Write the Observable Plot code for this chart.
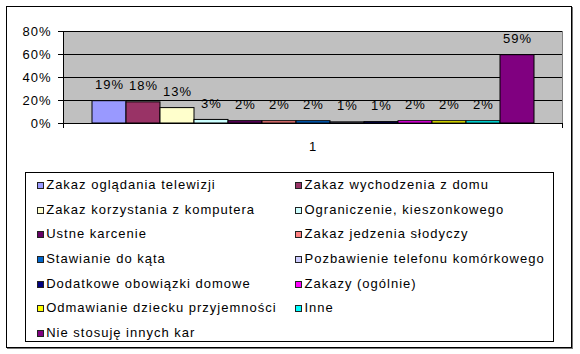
<!DOCTYPE html>
<html>
<head>
<meta charset="utf-8">
<script src="https://cdn.jsdelivr.net/npm/d3@7"></script>
<script src="https://cdn.jsdelivr.net/npm/@observablehq/plot@0.6"></script>
<style>
  html, body { margin: 0; padding: 0; background: #fff; }
  body { width: 580px; height: 354px; position: relative; overflow: hidden; font-family: "Liberation Sans", Arial, sans-serif; }
  #outer { position: absolute; left: 6px; top: 6px; width: 566px; height: 342px; border: 1px solid #000; box-sizing: border-box; box-shadow: 1px 1px 0 #777; }
  #chart { position: absolute; left: 0; top: 0; }
  #legend { position: absolute; left: 25px; top: 172px; width: 529px; height: 170px; border: 1px solid #000; box-sizing: border-box;
    display: grid; grid-template-columns: 258.3px auto; grid-auto-rows: 24.67px; padding: 0 0 0 10.7px;
    font-size: 13px; letter-spacing: 1px; line-height: 24.67px; color: #000; }
  .item { white-space: nowrap; }
  .sw { display: inline-block; width: 5px; height: 5px; border: 1px solid #222; margin-right: 2.5px; vertical-align: baseline; }
</style>
</head>
<body>
<div id="outer"></div>
<div id="chart"></div>
<div id="legend"></div>
<script>
const categories = [
  "Zakaz oglądania telewizji",
  "Zakaz wychodzenia z domu",
  "Zakaz korzystania z komputera",
  "Ograniczenie, kieszonkowego",
  "Ustne karcenie",
  "Zakaz jedzenia słodyczy",
  "Stawianie do kąta",
  "Pozbawienie telefonu komórkowego",
  "Dodatkowe obowiązki domowe",
  "Zakazy (ogólnie)",
  "Odmawianie dziecku przyjemności",
  "Inne",
  "Nie stosuję innych kar"
];
const values = [0.194, 0.184, 0.134, 0.031, 0.02, 0.02, 0.02, 0.01, 0.012, 0.02, 0.02, 0.02, 0.594];
const colors = ["#9999FF", "#993366", "#FFFFCC", "#CCFFFF", "#660066", "#FF8080", "#0066CC", "#CCCCFF", "#000080", "#FF00FF", "#FFFF00", "#00FFFF", "#800080"];
const yTicks = [0, 0.2, 0.4, 0.6, 0.8];
const groupLabels = ["1"];

const data = categories.map((c, i) => ({cat: c, value: values[i]}));
const pct = d3.format(".0%");

const chart = Plot.plot({
  width: 580,
  height: 160,
  marginLeft: 63,
  marginRight: 18,
  marginTop: 31,
  marginBottom: 37,
  style: {fontFamily: "'Liberation Sans', Arial, sans-serif", fontSize: "13px", letterSpacing: "1px", background: "transparent", color: "#000", overflow: "visible"},
  x: {domain: categories, paddingInner: 0, paddingOuter: 0.75, axis: null},
  y: {domain: [0, 0.8], axis: null},
  color: {domain: categories, range: colors},
  marks: [
    Plot.frame({fill: "#C0C0C0", stroke: "#808080"}),
    Plot.ruleY(yTicks, {stroke: "#000"}),
    Plot.axisY({ticks: yTicks, tickSize: 5, tickPadding: 7, tickFormat: pct, label: null, fill: "#000", stroke: "#000"}),
    Plot.frame({anchor: "left", stroke: "#000", insetBottom: -4}),
    Plot.frame({anchor: "right", stroke: "#000", insetTop: 92, insetBottom: -4}),
    Plot.barY(data, {x: "cat", y: "value", fill: "cat", stroke: "#000", strokeWidth: 1}),
    Plot.text(data, {x: "cat", y: "value", text: d => pct(d.value), lineAnchor: "bottom", dy: -12, fill: "#000"}),
    Plot.text(groupLabels, {frameAnchor: "bottom", text: d => d, lineAnchor: "bottom", dy: 27, fill: "#000"})
  ]
});
document.getElementById("chart").appendChild(chart);

const legend = d3.select("#legend");
categories.forEach((c, i) => {
  const item = legend.append("div").attr("class", "item");
  item.append("span").attr("class", "sw").style("background", colors[i]);
  item.append("span").text(c);
});
</script>
</body>
</html>
